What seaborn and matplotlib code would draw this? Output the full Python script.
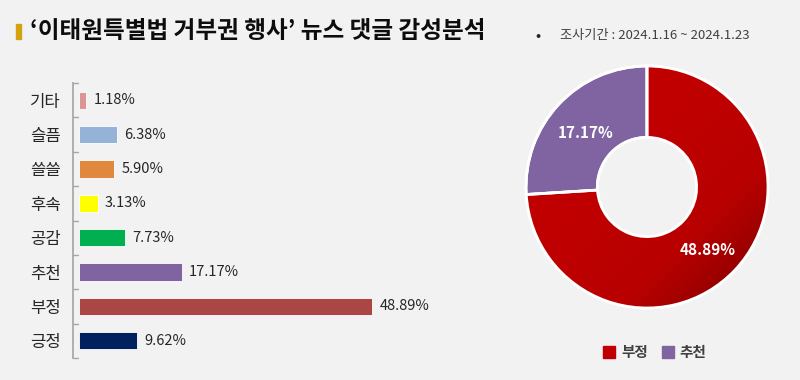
import numpy as np
import pandas as pd
import seaborn as sns
import matplotlib.pyplot as plt
from matplotlib.colors import LinearSegmentedColormap

# data
categories = ['기타', '슬픔', '쓸쓸', '후속', '공감', '추천', '부정', '긍정']
shares = [1.18, 6.38, 5.90, 3.13, 7.73, 17.17, 48.89, 9.62]
bar_colors = ['#d99694', '#95b3d7', '#e0883e', '#ffff00', '#00b050', '#8064a2', '#aa4644', '#002060']
donut_labels = ['부정', '추천']
donut_values = [48.89, 17.17]
donut_colors = ['#c00000', '#8064a2']

sns.set_theme(style='white')
plt.rcParams['font.family'] = ['Noto Sans CJK KR', 'DejaVu Sans']
bg = '#f2f2f2'

fig = plt.figure(figsize=(8, 3.8), dpi=100, facecolor=bg)
W, H = 800, 380

def box(l, t, r, b):
    return [l / W, 1 - b / H, (r - l) / W, (b - t) / H]

# bar chart
ax = fig.add_axes(box(73, 83, 470, 358))
ax.set_facecolor(bg)
df = pd.DataFrame({'cat': categories, 'share': shares})
sns.barplot(data=df, y='cat', x='share', hue='cat', palette=bar_colors, saturation=1,
            legend=False, width=0.5, ax=ax, edgecolor='white', linewidth=0.6)
ax.set_xlim(-1, 65.2)
ax.set_xlabel('')
ax.set_ylabel('')
ax.set_xticks([])
for s in ['top', 'right', 'bottom']:
    ax.spines[s].set_visible(False)
ax.spines['left'].set_color('#a6a6a6')
ax.tick_params(axis='y', length=0, labelsize=12, pad=9, labelcolor='#262626')
n = len(categories)
for i in range(n + 1):
    ax.plot([-1, -0.2], [i - 0.5, i - 0.5], color='#a6a6a6', lw=1, clip_on=False)
ax.set_ylim(n - 0.5, -0.5)
for i, v in enumerate(shares):
    ax.text(v + 1.2, i, f'{v:.2f}%', va='center', ha='left', fontsize=10.5, color='#262626')

# donut
ax2 = fig.add_axes(box(517, 57, 777, 317))
ax2.set_facecolor(bg)
wedges, _ = ax2.pie(donut_values, colors=donut_colors, startangle=90, counterclock=False,
                    radius=1.0, wedgeprops=dict(width=0.59, edgecolor='white', linewidth=2))
# diagonal shading on the red wedge
red = wedges[0]
yy, xx = np.mgrid[1:-1:200j, -1:1:200j]
grad = (xx - yy) / 2
cmap = LinearSegmentedColormap.from_list('r', ['#c00000', '#b80000', '#7a0000'])
im = ax2.imshow(grad, cmap=cmap, extent=(-1, 1, -1, 1), zorder=red.get_zorder() + 0.1,
                vmin=-0.2, vmax=1)
im.set_clip_path(red)
for w in wedges:
    ax2.add_patch(plt.matplotlib.patches.Wedge(w.center, w.r, w.theta1, w.theta2, width=w.width,
                                               facecolor='none', edgecolor='white', lw=2, zorder=5))
lim = 130 / 121
ax2.set_xlim(-lim, lim)
ax2.set_ylim(-lim, lim)
ax2.set_aspect('equal')
ax2.axis('off')
ax2.text(0.5, -0.52, '48.89%', color='white', fontsize=11, fontweight='bold', ha='center', va='center', zorder=6)
ax2.text(-0.51, 0.45, '17.17%', color='white', fontsize=11, fontweight='bold', ha='center', va='center', zorder=6)

handles = [plt.Rectangle((0, 0), 1, 1, color=c) for c in donut_colors]
leg = fig.legend(handles, donut_labels, loc='center', bbox_to_anchor=(655 / W, 1 - 352 / H),
                 ncol=2, frameon=False, fontsize=10.5, handlelength=0.8, handleheight=0.8,
                 handletextpad=0.4, columnspacing=1.0, labelcolor='#404040')
for t in leg.get_texts():
    t.set_fontweight('bold')

# title
fig.patches.append(plt.Rectangle((16 / W, 1 - 39 / H), 5 / W, 15 / H, color='#d4a20c',
                                 transform=fig.transFigure, figure=fig))
fig.text(30 / W, 1 - 31 / H, '‘이태원특별법 거부권 행사’ 뉴스 댓글 감성분석', fontsize=17,
         fontweight='bold', va='center', ha='left', color='#0d0d0d')
fig.text(535 / W, 1 - 36 / H, '•', fontsize=11, va='center', ha='left', color='#262626')
fig.text(560 / W, 1 - 35 / H, '조사기간 : 2024.1.16 ~ 2024.1.23', fontsize=9.5,
         va='center', ha='left', color='#404040')

fig.savefig('out.png', dpi=100, facecolor=bg)
